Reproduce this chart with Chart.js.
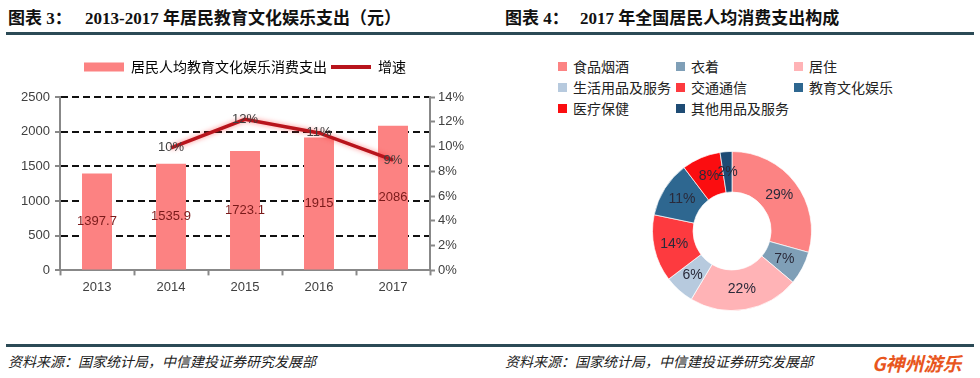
<!DOCTYPE html>
<html>
<head>
<meta charset="utf-8">
<script src="https://cdn.jsdelivr.net/npm/chart.js@4.4.1/dist/chart.umd.min.js"></script>
<style>
  body { margin: 0; width: 980px; height: 378px; background: #fff; position: relative; overflow: hidden; font-family: "Noto Sans CJK SC", sans-serif; }
  .title { position: absolute; top: 4px; font-family: "Liberation Serif", "Noto Sans CJK SC", serif; font-weight: bold; font-size: 17px; color: #111; white-space: nowrap; }
  .rule { position: absolute; left: 6px; width: 968px; height: 3px; background: #2b4a56; }
  .source { position: absolute; top: 351px; font-size: 14px; font-style: italic; color: #222; white-space: nowrap; }
  canvas { position: absolute; }
  #pieLegend { position: absolute; left: 558px; top: 56px; display: grid; grid-template-columns: 118px 118px 118px; grid-auto-rows: 21px; font-size: 14px; color: #222; }
  #pieLegend span.sw { display: inline-block; width: 9px; height: 9px; margin-right: 6px; vertical-align: 1px; }
  .logo { position: absolute; left: 872px; top: 349px; font-size: 19px; font-weight: bold; font-style: italic; color: #e8561e; white-space: nowrap; }
</style>
</head>
<body>
<div class="title" style="left:8px">图表 3：</div>
<div class="title" style="left:85px">2013-2017 年居民教育文化娱乐支出（元）</div>
<div class="title" style="left:505px">图表 4：</div>
<div class="title" style="left:580px">2017 年全国居民人均消费支出构成</div>
<div class="rule" style="top:32px"></div>

<canvas id="spendChart" width="490" height="260" style="left:0;top:40px"></canvas>
<div id="pieLegend"></div>
<canvas id="pieChart" width="160" height="160" style="left:652px;top:151px"></canvas>

<div class="rule" style="top:344px"></div>
<div class="source" style="left:8px">资料来源：国家统计局，中信建投证券研究发展部</div>
<div class="source" style="left:505px">资料来源：国家统计局，中信建投证券研究发展部</div>
<div class="logo">G神州游乐</div>

<script>
// left chart data
const years = ['2013', '2014', '2015', '2016', '2017'];
const spending = [1397.7, 1535.9, 1723.1, 1915, 2086];
const growth = [null, 9.9, 12.2, 11.1, 8.9];
const spendTicks = [0, 500, 1000, 1500, 2000, 2500];
const growthTicks = [0, 2, 4, 6, 8, 10, 12, 14];

// right chart data
const pieLabels = ['食品烟酒', '衣着', '居住', '生活用品及服务', '交通通信', '教育文化娱乐', '医疗保健', '其他用品及服务'];
const pieValues = [29.3, 6.8, 22.4, 6.1, 13.6, 11.4, 7.9, 2.4];

const pieColors = ['#fc8383', '#7f9fb7', '#ffb3b6', '#b7cade', '#fd3a3f', '#2e6790', '#fb0d10', '#1e4b74'];
const numFont = 'Liberation Sans';
const tickGray = '#888888';

// push the plot area down a bit under the legend
const legendGap = {
    id: 'legendGap',
    beforeInit(chart) {
        const origFit = chart.legend.fit;
        chart.legend.fit = function fit() {
            origFit.bind(chart.legend)();
            this.height += 13;
        };
    }
};

// red glow on the growth line
const lineGlow = {
    id: 'lineGlow',
    beforeDatasetDraw(chart, args) {
        if (args.index !== 1) return;
        chart.ctx.save();
        chart.ctx.shadowColor = 'rgba(255, 40, 40, 0.55)';
        chart.ctx.shadowBlur = 5;
    },
    afterDatasetDraw(chart, args) {
        if (args.index === 1) chart.ctx.restore();
    }
};

const valueLabels = {
    id: 'valueLabels',
    afterDatasetsDraw(chart) {
        const ctx = chart.ctx;
        ctx.save();
        ctx.font = '13px ' + numFont;
        ctx.textAlign = 'center';
        ctx.textBaseline = 'middle';
        chart.getDatasetMeta(0).data.forEach((bar, i) => {
            ctx.fillStyle = '#7a1a1a';
            ctx.fillText(String(spending[i]), bar.x, (bar.y + bar.base) / 2);
        });
        chart.getDatasetMeta(1).data.forEach((pt, i) => {
            if (growth[i] === null) return;
            ctx.fillStyle = '#404040';
            ctx.fillText(Math.round(growth[i]) + '%', pt.x, pt.y);
        });
        ctx.restore();
    }
};

new Chart(document.getElementById('spendChart'), {
    data: {
        labels: years,
        datasets: [
            {
                type: 'bar',
                label: '居民人均教育文化娱乐消费支出',
                data: spending,
                backgroundColor: '#fc8282',
                barPercentage: 0.405,
                categoryPercentage: 1,
                yAxisID: 'y',
                order: 2
            },
            {
                type: 'line',
                label: '增速',
                data: growth,
                borderColor: '#b8141c',
                borderWidth: 3.5,
                pointRadius: 0,
                tension: 0,
                yAxisID: 'y1',
                order: 1
            }
        ]
    },
    options: {
        responsive: false,
        animation: false,
        layout: { padding: { top: 16, bottom: 1, left: 0, right: 0 } },
        plugins: {
            tooltip: { enabled: false },
            legend: {
                position: 'top',
                labels: {
                    font: { family: 'Noto Sans CJK SC', size: 14 },
                    color: '#222',
                    padding: 4,
                    usePointStyle: true,
                    pointStyleWidth: 40,
                    boxHeight: 9,
                    generateLabels: function(chart) {
                        return chart.data.datasets.map(function(ds, i) {
                            return {
                                text: ds.label,
                                fillStyle: i ? ds.borderColor : ds.backgroundColor,
                                strokeStyle: i ? ds.borderColor : ds.backgroundColor,
                                lineWidth: i ? 4 : 0,
                                pointStyle: i ? 'line' : 'rect',
                                datasetIndex: i,
                                hidden: false
                            };
                        });
                    }
                }
            }
        },
        scales: {
            x: {
                grid: { drawOnChartArea: false, offset: true, tickLength: 5, tickColor: tickGray, tickWidth: 2 },
                border: { color: tickGray, width: 2 },
                ticks: { color: '#404040', font: { family: numFont, size: 13 }, padding: 4 }
            },
            y: {
                position: 'left',
                min: spendTicks[0],
                max: spendTicks[spendTicks.length - 1],
                afterBuildTicks: s => { s.ticks = spendTicks.map(v => ({ value: v })); },
                afterFit: s => { s.width = 60; },
                grid: {
                    color: c => (c.tick && c.tick.value === 0) ? 'rgba(0,0,0,0)' : '#111',
                    lineWidth: 2,
                    tickColor: tickGray,
                    tickWidth: 2,
                    tickLength: 5
                },
                border: { color: tickGray, width: 2, dash: [7, 4] },
                ticks: {
                    color: '#404040',
                    font: { family: numFont, size: 13 },
                    padding: 5,
                    callback: v => String(v)
                }
            },
            y1: {
                position: 'right',
                min: growthTicks[0],
                max: growthTicks[growthTicks.length - 1],
                afterBuildTicks: s => { s.ticks = growthTicks.map(v => ({ value: v })); },
                afterFit: s => { s.width = 60; },
                grid: { drawOnChartArea: false, tickColor: tickGray, tickWidth: 2, tickLength: 5 },
                border: { color: tickGray, width: 2 },
                ticks: {
                    color: '#404040',
                    font: { family: numFont, size: 13 },
                    padding: 3,
                    callback: v => v + '%'
                }
            }
        }
    },
    plugins: [legendGap, lineGlow, valueLabels]
});

// legend for the doughnut, three columns
const legendBox = document.getElementById('pieLegend');
pieLabels.forEach(function(name, i) {
    const item = document.createElement('div');
    item.innerHTML = '<span class="sw" style="background:' + pieColors[i] + '"></span>' + name;
    legendBox.appendChild(item);
});

const pieText = {
    id: 'pieText',
    afterDatasetsDraw(chart) {
        const ctx = chart.ctx;
        const total = pieValues.reduce((a, b) => a + b, 0);
        ctx.save();
        ctx.font = '14px ' + numFont;
        ctx.fillStyle = '#2a2a3a';
        ctx.textAlign = 'center';
        ctx.textBaseline = 'middle';
        chart.getDatasetMeta(0).data.forEach((arc, i) => {
            const p = arc.tooltipPosition();
            ctx.fillText(Math.round(pieValues[i] / total * 100) + '%', p.x, p.y);
        });
        ctx.restore();
    }
};

new Chart(document.getElementById('pieChart'), {
    type: 'doughnut',
    data: {
        labels: pieLabels,
        datasets: [{
            data: pieValues,
            backgroundColor: pieColors,
            borderColor: 'rgba(255,255,255,0.7)',
            borderWidth: 1
        }]
    },
    options: {
        responsive: false,
        animation: false,
        cutout: '49%',
        layout: { padding: 0 },
        plugins: {
            legend: { display: false },
            tooltip: { enabled: false }
        }
    },
    plugins: [pieText]
});
</script>
</body>
</html>
